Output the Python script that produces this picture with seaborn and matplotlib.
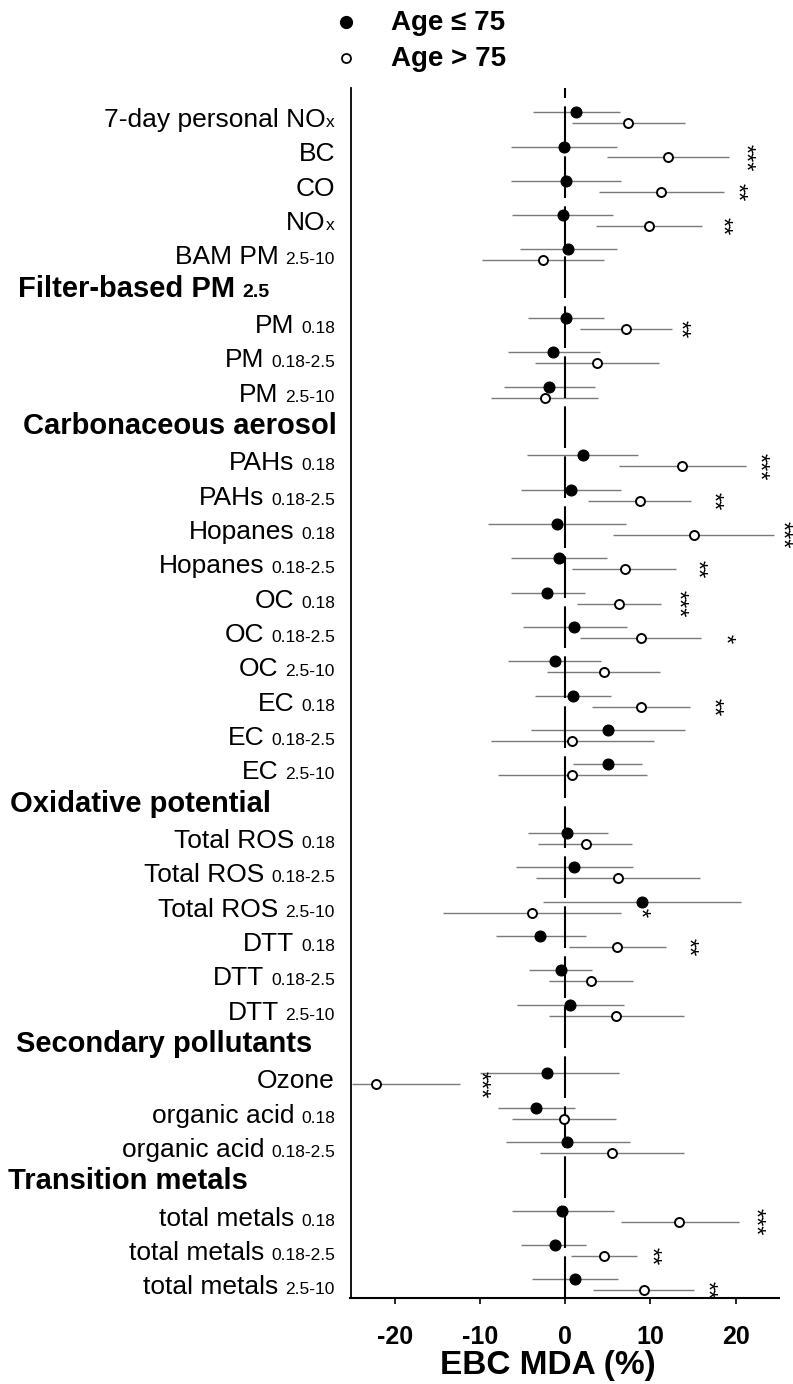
import numpy as np
import pandas as pd
import matplotlib
matplotlib.use("Agg")
import matplotlib.pyplot as plt
import seaborn as sns
from matplotlib import transforms
from matplotlib.lines import Line2D

# ---------------- data ----------------
row_main = ["7-day personal NO", "BC", "CO", "NO", "BAM PM",
            "PM", "PM", "PM",
            "PAHs", "PAHs", "Hopanes", "Hopanes", "OC", "OC", "OC", "EC", "EC", "EC",
            "Total ROS", "Total ROS", "Total ROS", "DTT", "DTT", "DTT",
            "Ozone", "organic acid", "organic acid",
            "total metals", "total metals", "total metals"]
row_sub = ["x", "", "", "x", "2.5-10",
           "0.18", "0.18-2.5", "2.5-10",
           "0.18", "0.18-2.5", "0.18", "0.18-2.5", "0.18", "0.18-2.5", "2.5-10",
           "0.18", "0.18-2.5", "2.5-10",
           "0.18", "0.18-2.5", "2.5-10", "0.18", "0.18-2.5", "2.5-10",
           "", "0.18", "0.18-2.5",
           "0.18", "0.18-2.5", "2.5-10"]

headers = ["Filter-based PM", "Carbonaceous aerosol", "Oxidative potential",
           "Secondary pollutants", "Transition metals"]
header_sub = ["2.5", "", "", "", ""]
header_first_row = [5, 8, 18, 24, 27]

# Age <= 75
le_est = [1.3, -0.1, 0.05, -0.3, 0.36, 0.1, -1.4, -1.9, 2.1, 0.65, -1.0, -0.7, -2.1, 1.0, -1.25,
          0.95, 5.0, 5.0, 0.2, 1.07, 9.05, -2.9, -0.5, 0.6, -2.1, -3.45, 0.24, -0.36, -1.25, 1.2]
le_lo = [-3.75, -6.4, -6.4, -6.2, -5.3, -4.4, -6.7, -7.2, -4.5, -5.2, -9.1, -6.4, -6.4, -5.0, -6.7,
         -3.5, -4.0, 0.95, -4.4, -5.8, -2.6, -8.1, -4.2, -5.6, -10.0, -7.9, -7.0, -6.2, -5.2, -3.9]
le_hi = [6.4, 6.1, 6.5, 5.6, 6.1, 4.6, 4.1, 3.5, 8.6, 6.5, 7.1, 4.9, 2.3, 7.2, 4.2,
         5.4, 14.1, 9.0, 5.0, 8.0, 20.65, 2.5, 3.2, 6.9, 6.3, 1.1, 7.6, 5.7, 2.5, 6.2]
# Age > 75
gt_est = [7.4, 12.1, 11.2, 9.8, -2.6, 7.1, 3.75, -2.4, 13.75, 8.75, 15.1, 7.0, 6.3, 8.9, 4.5,
          8.9, 0.8, 0.8, 2.4, 6.2, -3.9, 6.1, 3.0, 5.95, -22.2, -0.1, 5.5, 13.4, 4.6, 9.2]
gt_lo = [0.83, 4.9, 4.0, 3.6, -9.8, 1.7, -3.5, -8.7, 6.3, 2.7, 5.6, 0.8, 1.4, 1.7, -2.1,
         3.2, -8.7, -7.9, -3.2, -3.45, -14.3, 0.5, -1.85, -1.85, -25.0, -6.2, -2.9, 6.5, 0.7, 3.3]
gt_hi = [14.1, 19.2, 18.6, 16.1, 4.6, 12.5, 11.0, 3.9, 21.2, 14.8, 24.5, 13.0, 11.25, 16.0, 11.1,
         14.6, 10.4, 9.6, 7.9, 15.8, 6.5, 11.85, 8.0, 13.9, -12.3, 6.0, 13.9, 20.4, 8.45, 15.1]

# significance marks for Age > 75 group
sig_rows = [1, 2, 3, 5, 8, 9, 10, 11, 12, 13, 15, 20, 21, 24, 27, 28, 29]
sig_text = ["***", "**", "**", "**", "***", "**", "***", "**", "***", "*", "**", "*", "**",
            "***", "***", "**", "**"]
sig_x = [21.0, 20.1, 18.3, 13.4, 22.7, 17.3, 25.3, 15.4, 13.1, 18.6, 17.2, 8.7, 14.3,
         -10.1, 22.2, 10.0, 16.6]

xticks = [-20, -10, 0, 10, 20]
legend_labels = ["Age \u2264 75", "Age > 75"]
xlabel = "EBC MDA (%)"

# ---------------- layout ----------------
sns.set_style("ticks")
plt.rcParams["font.family"] = ["Liberation Sans", "DejaVu Sans"]
plt.rcParams["text.color"] = "black"
plt.rcParams["axes.labelcolor"] = "black"
plt.rcParams["xtick.color"] = "black"

W, H = 793, 1384
fig = plt.figure(figsize=(W / 100, H / 100), dpi=100)
ax_left, ax_right, ax_top, ax_bot = 350.5, 779, 88, 1298
ax = fig.add_axes([ax_left / W, 1 - ax_bot / H, (ax_right - ax_left) / W, (ax_bot - ax_top) / H])

# slot index for every row (headers take a slot before their group)
slots = []
s = 0
for i in range(len(row_main)):
    if i in header_first_row:
        s += 1
    slots.append(s)
    s += 1
slots = np.array(slots, dtype=float)
header_slots = [slots[r] - 1 for r in header_first_row]
n_slots = s

off_le, off_gt = -0.17, 0.15
df = pd.concat([
    pd.DataFrame({"y": slots + off_le, "est": le_est, "lo": le_lo, "hi": le_hi, "grp": legend_labels[0]}),
    pd.DataFrame({"y": slots + off_gt, "est": gt_est, "lo": gt_lo, "hi": gt_hi, "grp": legend_labels[1]}),
], ignore_index=True)

ax.set_xlim(-25.2, 25.1)
ax.set_ylim(n_slots - 1 + 0.37, -0.874)

ci_col = "#7a7a7a"
ax.hlines(df["y"], df["lo"], df["hi"], color=ci_col, lw=1.0, zorder=1)
ax.axvline(0, color="black", lw=1.5, dashes=(20, 4), zorder=2)

d_le = df[df["grp"] == legend_labels[0]]
d_gt = df[df["grp"] == legend_labels[1]]
sns.scatterplot(data=d_le, x="est", y="y", ax=ax, color="black", edgecolor="black",
                s=62, linewidth=0.8, zorder=3, legend=False)
sns.scatterplot(data=d_gt, x="est", y="y", ax=ax, color="white", edgecolor="black",
                s=42, linewidth=1.4, zorder=3, legend=False)

for r, txt, sx in zip(sig_rows, sig_text, sig_x):
    ax.text(sx, slots[r] + off_gt, txt, rotation=270, ha="center", va="center",
            fontsize=17, clip_on=False)

sns.despine(ax=ax)
ax.spines["left"].set_linewidth(1.3)
ax.spines["bottom"].set_linewidth(1.5)
ax.spines["left"].set_color("black")
ax.spines["bottom"].set_color("black")
ax.set_yticks([])
ax.set_ylabel("")
ax.set_xticks(xticks)
ax.set_xticklabels([str(t) for t in xticks], fontweight="bold")
ax.tick_params(axis="x", length=4.5, width=1.2, direction="out", pad=15, labelsize=18, colors="black")
ax.set_xlabel(xlabel, fontsize=24, fontweight="bold")
ax.xaxis.set_label_coords(0.461, -0.0555)
ax.xaxis.label.set_va("center")

# ---------------- row labels with small suffix ----------------
fig.canvas.draw()
renderer = fig.canvas.get_renderer()
base_tr = transforms.blended_transform_factory(fig.transFigure, ax.transData)


def two_part(x_px, y, main, sub, ha, main_kw, sub_kw, gap, dy):
    tr = transforms.offset_copy(base_tr, fig=fig, x=0, y=dy, units="dots")
    xf = x_px / W
    if ha == "right":
        w = 0
        if sub:
            t = fig.text(xf, y, sub, transform=tr, ha="right", va="baseline", **sub_kw)
            w = t.get_window_extent(renderer).width + gap
        tr2 = transforms.offset_copy(tr, fig=fig, x=-w, y=0, units="dots")
        fig.text(xf, y, main, transform=tr2, ha="right", va="baseline", **main_kw)
    else:
        t = fig.text(xf, y, main, transform=tr, ha="left", va="baseline", **main_kw)
        if sub:
            w = t.get_window_extent(renderer).width + gap
            tr2 = transforms.offset_copy(tr, fig=fig, x=w, y=0, units="dots")
            fig.text(xf, y, sub, transform=tr2, ha="left", va="baseline", **sub_kw)


lab_kw = dict(fontsize=19)
sub_kw = dict(fontsize=12.5)
for i, (m, sb) in enumerate(zip(row_main, row_sub)):
    gap = 0.5 if sb == "x" else 7
    two_part(335, slots[i], m, sb, "right", lab_kw, sub_kw, gap, -9)

head_x = [18, 23, 10, 16, 8]
for hx, hs, h, hsub in zip(head_x, header_slots, headers, header_sub):
    two_part(hx, hs, h, hsub, "left", dict(fontsize=21, fontweight="bold"),
             dict(fontsize=14, fontweight="bold"), 7, -7)

# ---------------- legend ----------------
leg_y = [22, 58]
fig.add_artist(Line2D([345.5 / W], [1 - leg_y[0] / H], transform=fig.transFigure, marker="o",
                      ms=8.5, mfc="black", mec="black", ls="none"))
fig.add_artist(Line2D([345.5 / W], [1 - leg_y[1] / H], transform=fig.transFigure, marker="o",
                      ms=6.5, mfc="white", mec="black", mew=1.3, ls="none"))
for ly, lab in zip(leg_y, legend_labels):
    fig.text(391 / W, 1 - (ly + 8.5) / H, lab, ha="left", va="baseline",
             fontsize=20, fontweight="bold")

fig.savefig("out.png", dpi=100)
